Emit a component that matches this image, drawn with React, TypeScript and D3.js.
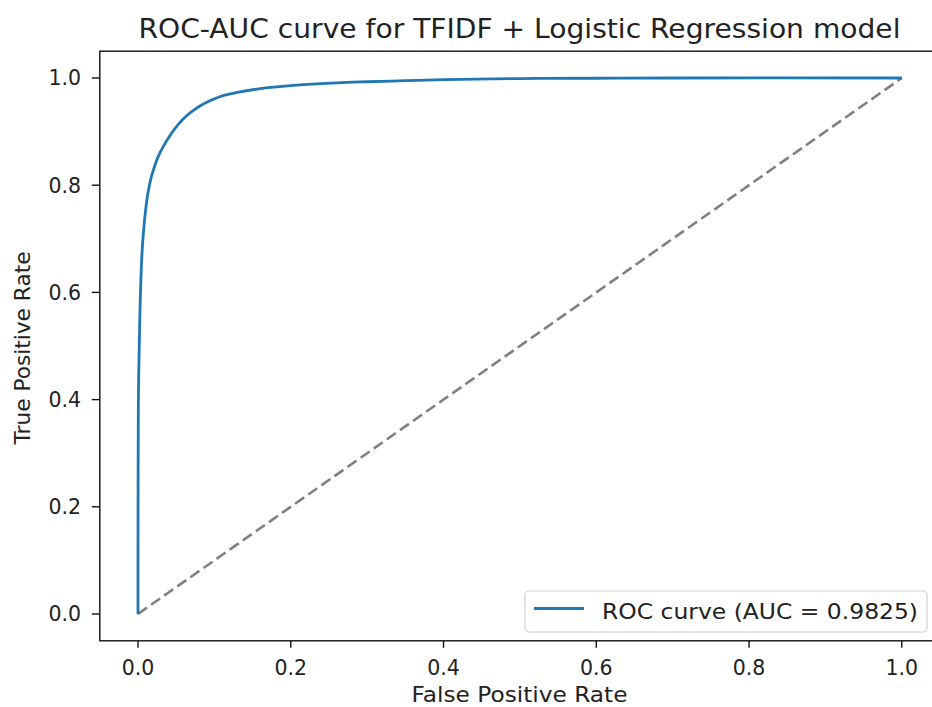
import React from "react";
import * as d3 from "d3";

const fpr = [0, 0, 0.0002, 0.0005, 0.0013, 0.0025, 0.0048, 0.007, 0.010, 0.013, 0.017, 0.021, 0.026, 0.033, 0.043, 0.053, 0.064, 0.078, 0.092, 0.107, 0.13, 0.16, 0.212, 0.26, 0.3, 0.35, 0.4, 0.5, 0.6, 0.7, 1];
const tpr = [0, 0.1, 0.28, 0.4, 0.474, 0.56, 0.66, 0.71, 0.754, 0.785, 0.813, 0.832, 0.852, 0.872, 0.895, 0.914, 0.93, 0.945, 0.956, 0.965, 0.973, 0.98, 0.987, 0.991, 0.993, 0.995, 0.997, 0.999, 0.9995, 1, 1];
const xTicks = [0, 0.2, 0.4, 0.6, 0.8, 1.0];
const yTicks = [0, 0.2, 0.4, 0.6, 0.8, 1.0];
const title = "ROC-AUC curve for TFIDF + Logistic Regression model";
const xLabel = "False Positive Rate";
const yLabel = "True Positive Rate";
const legendLabel = "ROC curve (AUC = 0.9825)";

const W = 932, H = 707;
const left = 99.8, right = 940, top = 51.2, bottom = 640.8;
const font = "DejaVu Sans, sans-serif";
const tickFs = 20.5;
const labelFs = 22;
const textColor = "#222";

export default function App() {
  const x = d3.scaleLinear().domain([-0.05, 1.05]).range([left, right]);
  const y = d3.scaleLinear().domain([-0.05, 1.05]).range([bottom, top]);
  const pts: [number, number][] = fpr.map((f, i) => [f, tpr[i]]);
  const line = d3.line<[number, number]>().x(d => x(d[0])).y(d => y(d[1]));
  const smooth = d3.line<[number, number]>().x(d => x(d[0])).y(d => y(d[1])).curve(d3.curveCatmullRom.alpha(0.5));
  const cx = 519.5;
  const cy = 348;
  const lx = 525, ly = 591, lw = 402, lh = 41;
  return (
    <svg width={W} height={H} style={{ position: "absolute", left: 0, top: 0, background: "#fff" }} fontFamily={font}>
      <rect width={W} height={H} fill="#fff" />
      <path d={line([[0, 0], [1, 1]]) || ""} stroke="#808080" strokeWidth={2.6} strokeDasharray="11,5" fill="none" />
      <path d={smooth(pts) || ""} stroke="#1f77b4" strokeWidth={2.8} fill="none" strokeLinejoin="round" />
      <rect x={left} y={top} width={right - left} height={bottom - top} fill="none" stroke="#111" strokeWidth={1.4} />
      {xTicks.map(t => (
        <g key={"x" + t}>
          <line x1={x(t)} x2={x(t)} y1={bottom} y2={bottom + 7} stroke="#111" strokeWidth={1.4} />
          <text x={x(t)} y={675} textAnchor="middle" fontSize={tickFs} fill={textColor}>{t.toFixed(1)}</text>
        </g>
      ))}
      {yTicks.map(t => (
        <g key={"y" + t}>
          <line x1={left - 8} x2={left} y1={y(t)} y2={y(t)} stroke="#111" strokeWidth={1.4} />
          <text x={81} y={y(t)} dy="0.36em" textAnchor="end" fontSize={tickFs} fill={textColor}>{t.toFixed(1)}</text>
        </g>
      ))}
      <text x={cx} y={38} textAnchor="middle" fontSize={27} fill={textColor} textLength={762} lengthAdjust="spacingAndGlyphs">{title}</text>
      <text x={cx} y={702} textAnchor="middle" fontSize={labelFs} fill={textColor} textLength={216} lengthAdjust="spacingAndGlyphs">{xLabel}</text>
      <text transform={`translate(30,${cy}) rotate(-90)`} textAnchor="middle" fontSize={labelFs} fill={textColor} textLength={193} lengthAdjust="spacingAndGlyphs">{yLabel}</text>
      <rect x={lx} y={ly} width={lw} height={lh} rx={4} fill="#fff" fillOpacity={0.8} stroke="#d0d0d0" strokeWidth={1.2} />
      <line x1={534} x2={584} y1={608.5} y2={608.5} stroke="#1f77b4" strokeWidth={2.8} />
      <text x={602} y={619} fontSize={labelFs} fill={textColor} textLength={316} lengthAdjust="spacingAndGlyphs">{legendLabel}</text>
    </svg>
  );
}
